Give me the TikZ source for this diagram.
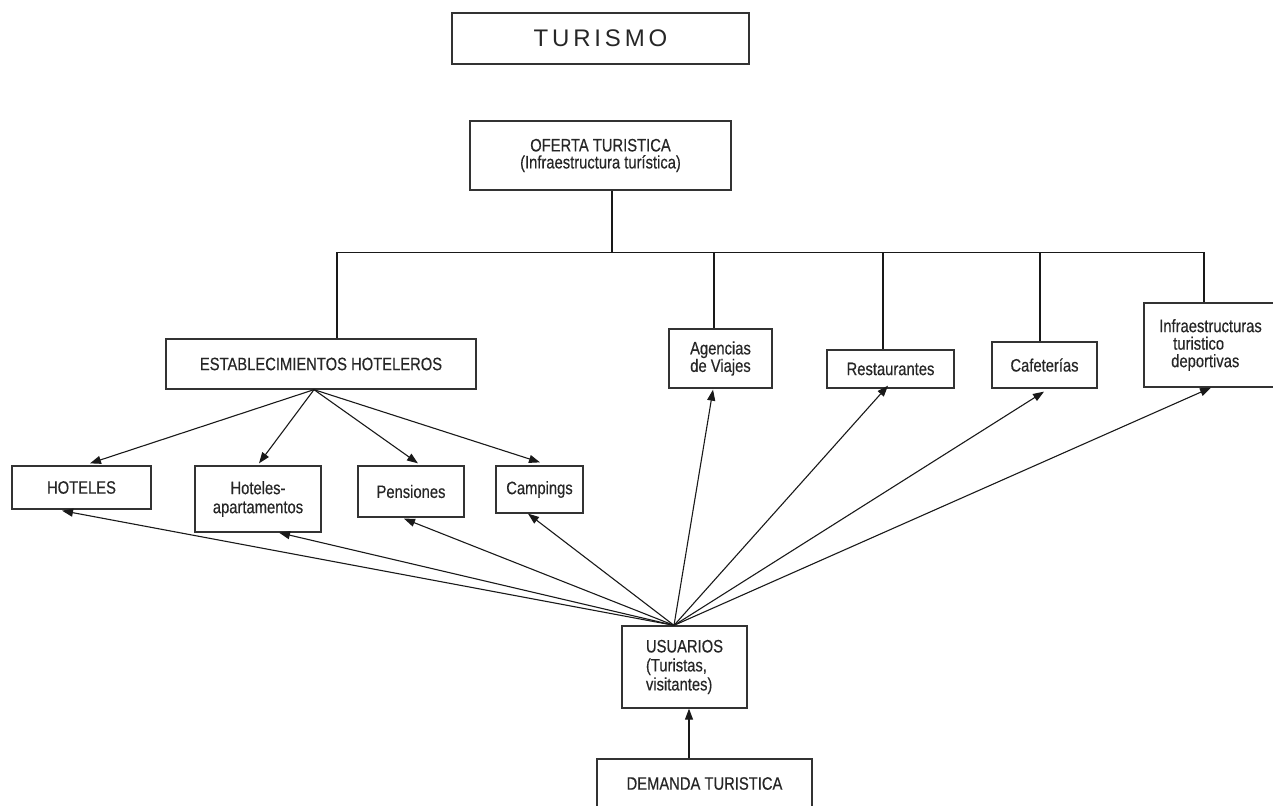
\documentclass[tikz,border=0pt]{standalone}
\usepackage{fontspec}
\setmainfont{Liberation Sans}[FakeStretch=0.82,FakeBold=0.4]
\newfontfamily\wideFont{Liberation Sans}[LetterSpace=16]
\usetikzlibrary{arrows.meta,calc}
\begin{document}
\begin{tikzpicture}[x=1pt,y=-1pt,
  box/.style={draw=black!80, line width=1.3pt, inner sep=0pt, align=center,
    font=\fontsize{18}{17.5}\selectfont, text=black!85},
  conn/.style={line width=1.1pt, draw=black!90},
  arr/.style={conn, -{Triangle[length=11pt,width=8pt]}}]
\useasboundingbox (0,0) rectangle (1273,805);
% nodes
\node[box, minimum width=297pt, minimum height=51pt] (turismo) at (600.5,38.5)
  {\wideFont\fontsize{24}{26}\selectfont TURISMO};
\node[box, minimum width=261pt, minimum height=69pt, font=\fontsize{18}{17}\selectfont] (oferta) at (600.5,155.5)
  {OFERTA TURISTICA\\(Infraestructura turística)};
\node[box, minimum width=310pt, minimum height=50pt] (estab) at (321,364) {ESTABLECIMIENTOS HOTELEROS};
\node[box, minimum width=103pt, minimum height=59pt] (agencias) at (720.5,358.5) {Agencias\\de Viajes};
\node[box, minimum width=127pt, minimum height=38pt] (rest) at (890.5,369) {Restaurantes};
\node[box, minimum width=105pt, minimum height=46pt] (cafe) at (1044.5,365) {Cafeterías};
\node[box, minimum width=133pt, minimum height=84pt, align=left] (infra) at (1210.5,345)
  {Infraestructuras\\\hspace*{14pt}turistico\\\hspace*{12pt}deportivas};
\node[box, minimum width=139pt, minimum height=43pt] (hoteles) at (81.5,487.5) {HOTELES};
\node[box, minimum width=126pt, minimum height=66pt, font=\fontsize{18}{19}\selectfont] (hotap) at (258,499) {Hoteles-\\apartamentos};
\node[box, minimum width=106pt, minimum height=51pt] (pens) at (411,491.5) {Pensiones};
\node[box, minimum width=87pt, minimum height=47pt] (camp) at (539.5,489.5) {Campings};
\node[box, minimum width=125pt, minimum height=82pt, align=left, font=\fontsize{18}{19}\selectfont] (usuarios) at (684.5,667)
  {USUARIOS\\(Turistas,\\visitantes)};
\node[box, minimum width=215pt, minimum height=49pt] (demanda) at (704.5,783.5) {DEMANDA TURISTICA};
% tree
\coordinate (bus) at ($(oferta.south)+(11.5,62)$);
\draw[conn] ($(oferta.south)+(11.5,0)$) -- (bus);
\draw[conn] (bus) -| ($(estab.north)+(16,0)$);
\draw[conn] (bus) -| ($(agencias.north)+(-6.5,0)$);
\draw[conn] (bus) -| ($(rest.north)+(-7.5,0)$);
\draw[conn] (bus) -| ($(cafe.north)+(-4.5,0)$);
\draw[conn] (bus) -| ($(infra.north)+(-6.5,0)$);
% from establecimientos
\coordinate (eo) at ($(estab.south)+(-7,0)$);
\draw[arr] (eo) -- ($(hoteles.north)+(8.5,-2)$);
\draw[arr] (eo) -- ($(hotap.north)+(1,-2)$);
\draw[arr] (eo) -- ($(pens.north)+(7,-2)$);
\draw[arr] (eo) -- ($(camp.north)+(0.5,-3)$);
% from usuarios
\coordinate (uo) at ($(usuarios.north)+(-10.5,0)$);
\draw[arr] (uo) -- ($(hoteles.south)+(-19.5,1)$);
\draw[arr] (uo) -- ($(hotap.south)+(21,0)$);
\draw[arr] (uo) -- ($(pens.south)+(-7,1)$);
\draw[arr] (uo) -- ($(camp.south)+(-11.5,0)$);
\draw[arr] (uo) -- ($(agencias.south)+(-7.5,1)$);
\draw[arr] (uo) -- ($(rest.south)+(-2.5,-3)$);
\draw[arr] (uo) -- ($(cafe.south)+(-0.5,3)$);
\draw[arr] (uo) -- ($(infra.south)+(0.5,0)$);
% demanda
\draw[arr] ($(demanda.north)+(-15.5,0)$) -- ($(usuarios.south)+(4.5,0)$);
\end{tikzpicture}
\end{document}
